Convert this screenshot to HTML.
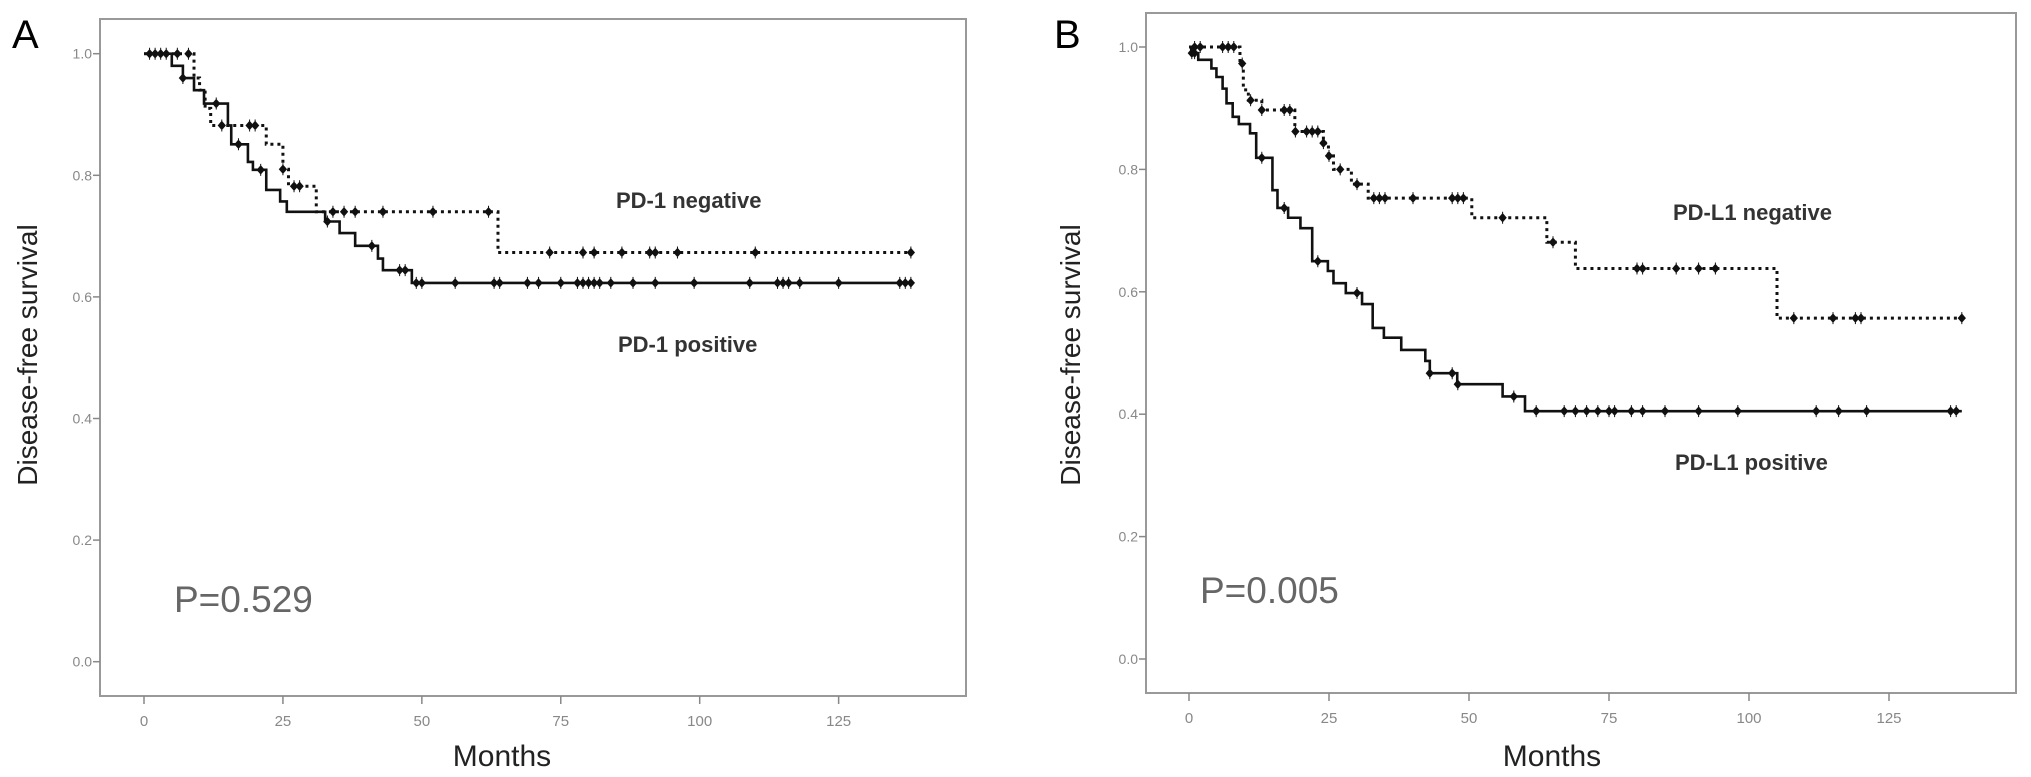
<!DOCTYPE html>
<html><head><meta charset="utf-8"><style>
html,body{margin:0;padding:0;background:#fff;}
svg{display:block;font-family:"Liberation Sans",Arial,sans-serif;}
</style></head><body>
<svg id="fig" width="2031" height="777" viewBox="0 0 2031 777" xmlns="http://www.w3.org/2000/svg"></svg>
<script>
// ---------- Panel A data ----------
const aNegTimes=[0,9,10,11,12,22,25,26,31,63.7];
const aNegSurv=[1.0,0.96,0.94,0.91,0.882,0.851,0.81,0.782,0.740,0.673];
const aNegCens=[6,8,14,19,20,25,27,28,34,36,38,43,52,62,73,79,81,86,91,92,96,110,138];
const aPosTimes=[0,5,7,9,10.8,15.1,15.7,18.7,19.6,22,24.5,25.7,32.6,35.2,38,42.1,43,48.2];
const aPosSurv=[1.0,0.98,0.96,0.94,0.918,0.882,0.851,0.822,0.809,0.776,0.757,0.740,0.724,0.705,0.684,0.663,0.644,0.623];
const aPosCens=[1,2,3,4,7,13,17,21,33,41,46,47,49,50,56,63,64,69,71,75,78,79,80,81,82,84,88,92,99,109,114,115,116,118,125,136,137,138];
// ---------- Panel B data ----------
const bNegTimes=[0,9.1,9.7,10.6,13,18.9,24,24.9,25.8,29,32,50.5,63.9,69,105];
const bNegSurv=[1.0,0.973,0.930,0.913,0.897,0.862,0.843,0.822,0.800,0.776,0.753,0.721,0.681,0.638,0.557];
const bNegCens=[1,2,6,7,8,9.5,11,13,17,18,19,21,22,23,24,25,27,30,33,34,35,40,47,48,49,56,65,80,81,87,91,94,108,115,119,120,138];
const bPosTimes=[0,0.4,1.65,4,4.9,6,6.7,7.8,8.9,10.9,12,14.9,15.8,17.7,19.9,22,24.8,25.8,28,30.9,32.8,34.8,37.9,42.2,43,47.9,56,60];
const bPosSurv=[1.0,0.99,0.979,0.965,0.951,0.932,0.908,0.886,0.874,0.859,0.819,0.766,0.737,0.721,0.704,0.650,0.634,0.614,0.598,0.580,0.541,0.525,0.505,0.487,0.467,0.449,0.429,0.405];
const bPosCens=[0.5,1,13,17,23,30,43,47,48,58,62,67,69,71,73,75,76,79,81,85,91,98,112,116,121,136,137];
const xTicks=[0,25,50,75,100,125];
const yTicks=[0,0.2,0.4,0.6,0.8,1.0];
const yTickLabels=["0.0","0.2","0.4","0.6","0.8","1.0"];

const NS="http://www.w3.org/2000/svg";
const svg=document.getElementById('fig');
function mk(tag,attrs,parent){const e=document.createElementNS(NS,tag);for(const k in attrs)e.setAttribute(k,attrs[k]);(parent||svg).appendChild(e);return e;}

function panel(cfg){
  const g=mk('g',{});
  
  
  const X=t=>cfg.x0+t*cfg.xs;
  const Y=s=>cfg.y0-s*cfg.ys;
  const fr=mk('rect',{x:cfg.fl,y:cfg.ft,width:cfg.fr-cfg.fl,height:cfg.fb-cfg.ft,fill:'none',stroke:'#999','stroke-width':2},g);
  
  
  yTicks.forEach((v,i)=>{
    const tk=mk('line',{x1:cfg.fl-7,x2:cfg.fl,y1:Y(v),y2:Y(v),stroke:'#888','stroke-width':1.5},g);
    
    
    const tl=mk('text',{x:cfg.fl-8,y:Y(v)+5,'text-anchor':'end','font-size':14,fill:'#888'},g);
    tl.textContent=yTickLabels[i];
    
    
  });
  xTicks.forEach(v=>{
    const tk=mk('line',{x1:X(v),x2:X(v),y1:cfg.fb,y2:cfg.fb+8,stroke:'#888','stroke-width':1.5},g);
    
    
    const tl=mk('text',{x:X(v),y:cfg.fb+30,'text-anchor':'middle','font-size':15,fill:'#888'},g);
    tl.textContent=String(v);
    
    
  });
  function curve(times,surv,cens,end,dashed,nm){
    let d=`M${X(times[0])},${Y(surv[0])}`;
    for(let i=1;i<times.length;i++){d+=` H${X(times[i])} V${Y(surv[i])}`;}
    d+=` H${X(end)}`;
    const p=mk('path',{d:d,fill:'none',stroke:'#111','stroke-width':dashed?3:2.6,'stroke-dasharray':dashed?'3 4':'none'},g);
    
    
    cens.forEach(t=>{
      let s=surv[0];
      for(let i=0;i<times.length;i++){if(times[i]<=t)s=surv[i];}
      const cx=X(t),cy=Y(s);
      const m=mk('path',{d:`M${cx},${cy-4} L${cx+3.5},${cy} L${cx},${cy+4} L${cx-3.5},${cy} Z M${cx},${cy-6} V${cy+6}`,fill:'#111',stroke:'#111','stroke-width':1},g);
      
      
    });
  }
  curve(cfg.negT,cfg.negS,cfg.negC,138,true,'negative');
  curve(cfg.posT,cfg.posS,cfg.posC,138,false,'positive');
  const t1=mk('text',{x:cfg.negLab[0],y:cfg.negLab[1],'font-size':22,'font-weight':'bold',fill:'#333'},g);
  t1.textContent=cfg.negText;
  
  
  const t2=mk('text',{x:cfg.posLab[0],y:cfg.posLab[1],'font-size':22,'font-weight':'bold',fill:'#333'},g);
  t2.textContent=cfg.posText;
  
  
  const pv=mk('text',{x:cfg.pLab[0],y:cfg.pLab[1],'font-size':37,fill:'#666'},g);
  pv.textContent=cfg.pText;
  
  
  const xt=mk('text',{x:cfg.monthsX,y:766,'text-anchor':'middle','font-size':30,fill:'#222'},g);
  xt.textContent='Months';
  
  
  const yt=mk('text',{x:0,y:0,'text-anchor':'middle','font-size':28,fill:'#222',transform:`translate(${cfg.ytX},355) rotate(-90)`},g);
  yt.textContent='Disease-free survival';
  
  
  const pl=mk('text',{x:cfg.letter[0],y:cfg.letter[1],'font-size':40,fill:'#000'},g);
  pl.textContent=cfg.letterText;
  
  
}

panel({name:'panel-a',x0:144,xs:5.557,y0:661.7,ys:608,fl:100,fr:966,ft:19,fb:696,
  negT:aNegTimes,negS:aNegSurv,negC:aNegCens,posT:aPosTimes,posS:aPosSurv,posC:aPosCens,
  negLab:[616,208],negText:'PD-1 negative',posLab:[618,352],posText:'PD-1 positive',
  pLab:[174,612],pText:'P=0.529',monthsX:502,ytX:37,letter:[12,48],letterText:'A'});
panel({name:'panel-b',x0:1189,xs:5.6,y0:659,ys:612,fl:1146,fr:2016,ft:13,fb:693,
  negT:bNegTimes,negS:bNegSurv,negC:bNegCens,posT:bPosTimes,posS:bPosSurv,posC:bPosCens,
  negLab:[1673,220],negText:'PD-L1 negative',posLab:[1675,470],posText:'PD-L1 positive',
  pLab:[1200,603],pText:'P=0.005',monthsX:1552,ytX:1080,letter:[1054,48],letterText:'B'});
</script>
</body></html>
